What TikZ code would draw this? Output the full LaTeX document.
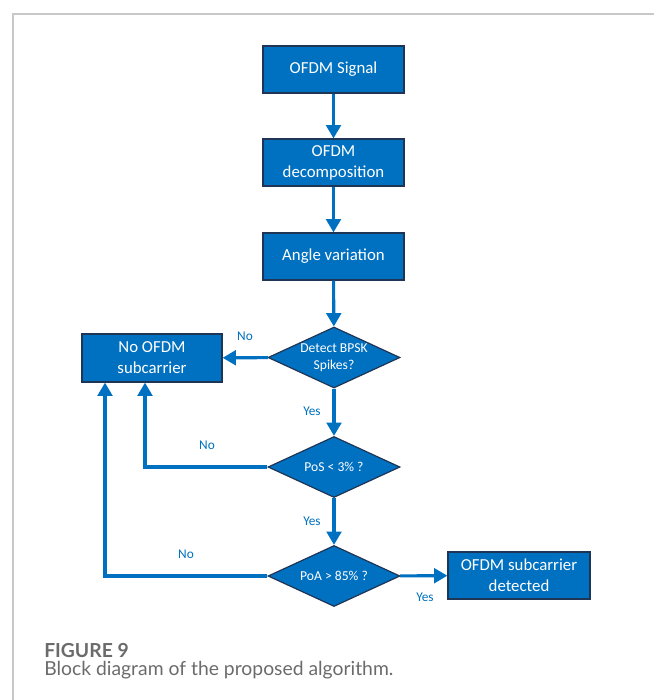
\documentclass[tikz,border=0pt]{standalone}
\usepackage{fontspec}
\setmainfont{Carlito}
\newfontfamily\capfont{Lato}
\usetikzlibrary{shapes.geometric,arrows.meta,calc}
\definecolor{ofblue}{HTML}{0070C0}
\definecolor{ofedge}{HTML}{1F3556}
\definecolor{capgray}{HTML}{6B6B6B}
\definecolor{framegray}{HTML}{C8C8C8}
\tikzset{
  blockbox/.style={rectangle, fill=ofblue, draw=ofedge, line width=0.9pt, text=white,
    minimum width=105.75pt, minimum height=35.25pt, inner sep=0pt, align=center,
    font=\fontsize{12.6}{15.75}\selectfont},
  decision/.style={diamond, fill=ofblue, draw=ofedge, line width=0.9pt, text=white,
    minimum width=99pt, minimum height=45.75pt, inner sep=0pt, aspect=2.2, align=center,
    font=\fontsize{10.2}{12.75}\selectfont},
  flow/.style={draw=ofblue, line width=2.3pt, -{Triangle[width=11pt,length=10pt]}},
  lbl/.style={text=ofblue, font=\fontsize{10}{12}\selectfont, inner sep=0pt},
}
\begin{document}
\begin{tikzpicture}[x=0.75pt, y=-0.75pt]
\useasboundingbox (0,0) rectangle (654,700);
% frame
\draw[framegray, line width=0.8pt] (13,700) -- (13,14) -- (654,14);
% nodes
\node[blockbox] (sig) at (333.5,69.5) {OFDM Signal};
\node[blockbox] (dec) at (333.5,162.5) {OFDM\\decomposition};
\node[blockbox] (ang) at (333.5,256.5) {Angle variation};
\node[decision] (d1) at (334,357.5) {Detect BPSK\\Spikes?};
\node[blockbox, minimum width=105pt, minimum height=36pt] (noofdm) at (152,358) {No OFDM\\subcarrier};
\node[decision] (d2) at (334,467) {PoS < 3\% ?};
\node[decision] (d3) at (334,576) {PoA > 85\% ?};
\node[blockbox, minimum width=106.5pt] (det) at (519,575.5) {OFDM subcarrier\\detected};
% connectors
\draw[flow] (sig) -- (dec);
\draw[flow] (dec) -- (ang);
\draw[flow] (ang) -- (d1);
\draw[flow] (d1) -- (noofdm);
\draw[flow] (d1) -- (d2);
\draw[flow] (d2) -- (d3);
\draw[flow] (d3) -- (det);
\coordinate (in2) at ($(noofdm.south)+(-7,0)$);
\coordinate (in3) at ($(noofdm.south)+(-47,0)$);
\draw[flow] (d2.west) -| (in2);
\draw[flow] (d3.west) -| (in3);
% labels
\node[lbl] (l1) at (245,336) {No};
\node[lbl] (l2) at (312,411) {Yes};
\node[lbl] (l3) at (207,445) {No};
\node[lbl] (l4) at (312,521) {Yes};
\node[lbl] (l5) at (186,554) {No};
\node[lbl] (l6) at (425,597) {Yes};
% caption
\node[anchor=west, inner sep=0pt, text=capgray, font=\capfont\bfseries\fontsize{14.5}{17}\selectfont] (cap1) at (44,651) {FIGURE 9};
\node[anchor=west, inner sep=0pt, text=capgray, font=\capfont\fontsize{14.5}{17}\selectfont] (cap2) at (44,670) {Block diagram of the proposed algorithm.};
\end{tikzpicture}
\end{document}
